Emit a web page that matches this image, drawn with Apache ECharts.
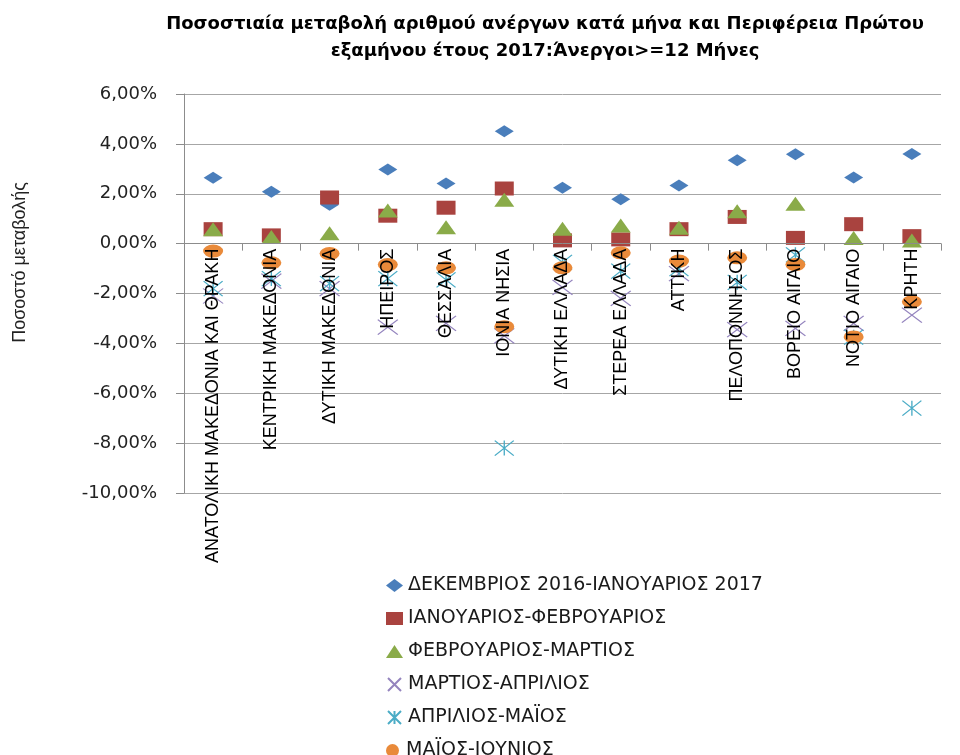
<!DOCTYPE html>
<html>
<head>
<meta charset="utf-8">
<script src="https://cdn.jsdelivr.net/npm/echarts@6/dist/echarts.min.js"></script>
<style>html,body{margin:0;padding:0;background:#fff;}#chart{width:960px;height:755px;}</style>
</head>
<body>
<div id="chart"></div>
<script>
var titleText = 'Ποσοστιαία μεταβολή αριθμού ανέργων κατά μήνα και Περιφέρεια Πρώτου\nεξαμήνου έτους 2017:Άνεργοι>=12 Μήνες';
var yAxisName = 'Ποσοστό μεταβολής';
var categories = ['ΑΝΑΤΟΛΙΚΗ ΜΑΚΕΔΟΝΙΑ ΚΑΙ ΘΡΑΚΗ','ΚΕΝΤΡΙΚΗ ΜΑΚΕΔΟΝΙΑ','ΔΥΤΙΚΗ ΜΑΚΕΔΟΝΙΑ','ΗΠΕΙΡΟΣ','ΘΕΣΣΑΛΙΑ','ΙΟΝΙΑ ΝΗΣΙΑ','ΔΥΤΙΚΗ ΕΛΛΑΔΑ','ΣΤΕΡΕΑ ΕΛΛΑΔΑ','ΑΤΤΙΚΗ','ΠΕΛΟΠΟΝΝΗΣΟΣ','ΒΟΡΕΙΟ ΑΙΓΑΙΟ','ΝΟΤΙΟ ΑΙΓΑΙΟ','ΚΡΗΤΗ'];
var seriesNames = ['ΔΕΚΕΜΒΡΙΟΣ 2016-ΙΑΝΟΥΑΡΙΟΣ 2017','ΙΑΝΟΥΑΡΙΟΣ-ΦΕΒΡΟΥΑΡΙΟΣ','ΦΕΒΡΟΥΑΡΙΟΣ-ΜΑΡΤΙΟΣ','ΜΑΡΤΙΟΣ-ΑΠΡΙΛΙΟΣ','ΑΠΡΙΛΙΟΣ-ΜΑΪΟΣ','ΜΑΪΟΣ-ΙΟΥΝΙΟΣ'];
// values in percent
var decJan = [2.64, 2.08, 1.56, 2.97, 2.41, 4.51, 2.24, 1.78, 2.33, 3.34, 3.58, 2.65, 3.59];
var janFeb = [0.58, 0.33, 1.85, 1.12, 1.44, 2.21, 0.13, 0.17, 0.58, 1.07, 0.23, 0.78, 0.30];
var febMar = [0.58, 0.27, 0.42, 1.33, 0.66, 1.76, 0.60, 0.73, 0.64, 1.30, 1.60, 0.23, 0.13];
var marApr = [-2.10, -1.50, -1.80, -3.35, -3.20, -3.70, -1.75, -2.20, -1.20, -3.45, -3.40, -3.20, -2.87];
var aprMay = [-1.80, -1.40, -1.60, -1.40, -1.45, -8.20, -0.75, -1.10, -1.00, -1.55, -0.45, -3.75, -6.60];
var mayJun = [-0.30, -0.77, -0.40, -0.84, -0.97, -3.33, -0.97, -0.37, -0.70, -0.57, -0.84, -3.74, -2.33];
var yMin = -10, yMax = 6, yStep = 2;

var crossPath = 'path://M0,0L10,10M10,0L0,10';
var starPath = 'path://M0,0L10,10M10,0L0,10M5,0L5,10';

var gridTop = 94, gridBottom = 262, chartH = 755;
var plotH = chartH - gridTop - gridBottom;
// move the category axis (line, ticks, labels) up to the 0 value, as in the reference
var zeroOffset = -(plotH * (0 - yMin) / (yMax - yMin));

var legendCommon = {
  orient: 'vertical',
  left: 381,
  itemWidth: 17,
  itemHeight: 13,
  itemGap: 14,
  textStyle: {fontFamily: 'DejaVu Sans', fontSize: 19, color: '#1a1a1a'}
};

var chart = echarts.init(document.getElementById('chart'));
var option = {
  animation: false,
  backgroundColor: '#fff',
  title: {
    text: titleText,
    left: 540,
    top: 6,
    textAlign: 'center',
    textStyle: {fontFamily: 'DejaVu Sans', fontWeight: 'bold', fontSize: 18, lineHeight: 27, color: '#000'}
  },
  legend: [
    Object.assign({}, legendCommon, {top: 571, data: seriesNames.slice(0, 5)}),
    Object.assign({}, legendCommon, {top: 736, data: seriesNames.slice(5)})
  ],
  grid: {left: 184, right: 19, top: gridTop, bottom: gridBottom, containLabel: false, outerBoundsMode: 'none'},
  xAxis: {
    type: 'category',
    data: categories,
    z: 5,
    offset: zeroOffset,
    axisLine: {onZero: false, lineStyle: {color: '#8c8c8c', width: 1}},
    axisTick: {show: true, length: 7, alignWithLabel: false, lineStyle: {color: '#8c8c8c'}},
    axisLabel: {rotate: 90, interval: 0, margin: 5, fontFamily: 'Liberation Sans', fontSize: 18, color: '#000'},
    splitLine: {show: false}
  },
  yAxis: {
    type: 'value',
    min: yMin, max: yMax, interval: yStep,
    name: yAxisName,
    nameLocation: 'middle',
    nameRotate: 90,
    nameGap: 155,
    nameTextStyle: {fontFamily: 'Liberation Sans', fontSize: 18, color: '#222', padding: [0,0,0,62]},
    axisLine: {show: true, lineStyle: {color: '#8c8c8c'}},
    axisTick: {show: true, length: 8, lineStyle: {color: '#8c8c8c'}},
    axisLabel: {margin: 27, fontFamily: 'DejaVu Sans', fontSize: 18, color: '#222',
      formatter: function (v) { return v.toFixed(2).replace('.', ',') + '%'; }},
    splitLine: {show: true, lineStyle: {color: '#a6a6a6', width: 1}}
  },
  series: [
    {name: seriesNames[0], type: 'scatter', data: decJan, symbol: 'diamond', symbolSize: [19, 12], itemStyle: {color: '#4A7EBB', opacity: 1}},
    {name: seriesNames[1], type: 'scatter', data: janFeb, symbol: 'rect', symbolSize: [19, 14], itemStyle: {color: '#A9433F', opacity: 1}},
    {name: seriesNames[2], type: 'scatter', data: febMar, symbol: 'triangle', symbolSize: [20, 14], itemStyle: {color: '#8AAB49', opacity: 1}},
    {name: seriesNames[3], type: 'scatter', data: marApr, symbol: crossPath, symbolSize: [20, 15], itemStyle: {color: 'rgba(0,0,0,0)', borderColor: '#9484BE', borderWidth: 1.2, opacity: 1}},
    {name: seriesNames[4], type: 'scatter', data: aprMay, symbol: starPath, symbolSize: [19, 15], itemStyle: {color: 'rgba(0,0,0,0)', borderColor: '#4BACC6', borderWidth: 1.2, opacity: 1}},
    {name: seriesNames[5], type: 'scatter', data: mayJun, symbol: 'circle', symbolSize: [20, 13], itemStyle: {color: '#E98A3A', opacity: 1}}
  ]
};
chart.setOption(option);
</script>
</body>
</html>
